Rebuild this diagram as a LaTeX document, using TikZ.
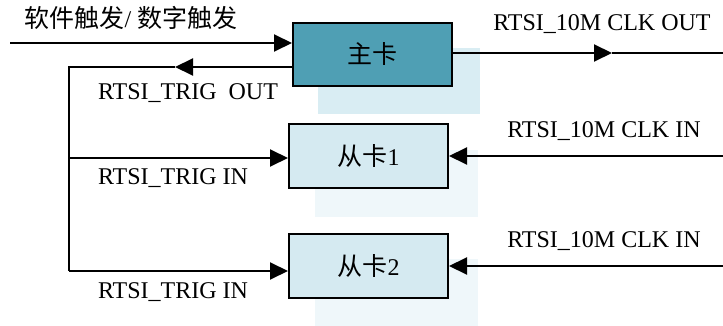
\documentclass[tikz,border=0pt]{standalone}
\usepackage{fontspec}
\setmainfont{Liberation Serif}
\newfontfamily\cjk{Noto Sans CJK SC}
\usepackage{tikz}
\usetikzlibrary{arrows.meta,positioning}
\definecolor{mastercol}{HTML}{4F9FB4}
\definecolor{slavecol}{HTML}{D5EAF1}
\definecolor{shadecol}{HTML}{D9EDF3}
\definecolor{paleshade}{HTML}{EFF7FA}
\tikzstyle{masterblock}=[rectangle, draw, line width=1pt, fill=mastercol, minimum width=79.5pt, minimum height=31.5pt]
\tikzstyle{slaveblock}=[rectangle, draw, line width=1pt, fill=slavecol, minimum width=79.5pt, minimum height=32pt]
\tikzstyle{sig}=[line width=1pt, >={Triangle[length=9pt,width=8.5pt]}]

\begin{document}
\begin{tikzpicture}[x=0.5pt,y=-0.5pt,every node/.style={font=\fontsize{12}{14}\selectfont}]
\useasboundingbox (0,0) rectangle (723,326);

% pale shadows behind the cards
\fill[shadecol] (318,48) rectangle (480,114);
\fill[paleshade] (315,150) rectangle (478,217);
\fill[paleshade] (315,259) rectangle (478,326);

\node[masterblock](m) at (372.5,54.5) {\fontsize{12.5}{14}\cjk 主卡};
\node[slaveblock](s1) at (368.5,156) {{\fontsize{12.5}{14}\cjk 从卡}1};
\node[slaveblock](s2) at (368.5,266) {{\fontsize{12.5}{14}\cjk 从卡}2};

\coordinate (trig) at (10,43);
\coordinate (bus) at (69,67);
\coordinate (outtip) at (175,67);
\coordinate (j1) at (69,158);
\coordinate (j2) at (69,271);
\coordinate (clktip) at (612,53);
\coordinate (clkout) at (723,53);
\coordinate (c1) at (723,156);
\coordinate (c2) at (723,266);

\node(ltrig) at (131,18) {{\fontsize{12.5}{14}\cjk 软件触发}/ {\fontsize{12.5}{14}\cjk 数字触发}};
\node(lout) at (188,93) {RTSI\_TRIG~ OUT};
\node(lin1) at (173,178) {RTSI\_TRIG IN};
\node(lin2) at (173,292) {RTSI\_TRIG IN};
\node(lclk) at (602,24) {RTSI\_10M CLK OUT};
\node(lclk1) at (604,131) {RTSI\_10M CLK IN};
\node(lclk2) at (604,241) {RTSI\_10M CLK IN};

\draw[sig,->](trig) -- (trig -| m.west);
\draw[sig,->](m.west |- bus) -- (outtip);
\draw[sig](outtip) -- (bus) -- (j2);
\draw[sig,->](j1) -- (j1 -| s1.west);
\draw[sig,->](j2) -- (j2 -| s2.west);
\draw[sig,->](m.east |- clktip) -- (clktip);
\draw[sig](clktip) -- (clkout);
\draw[sig,->](c1) -- (c1 -| s1.east);
\draw[sig,->](c2) -- (c2 -| s2.east);

\end{tikzpicture}
\end{document}
